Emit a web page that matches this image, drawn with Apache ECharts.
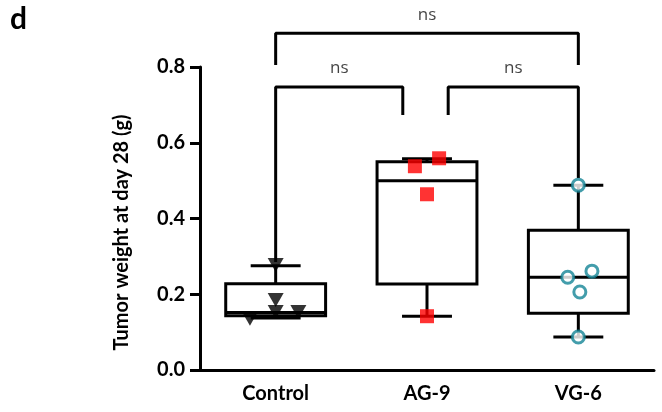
<!DOCTYPE html>
<html>
<head>
<meta charset="utf-8">
<script src="https://cdn.jsdelivr.net/npm/echarts@6/dist/echarts.min.js"></script>
<style>
  html, body { margin: 0; padding: 0; background: #fff; }
  #chart { width: 662px; height: 412px; }
</style>
</head>
<body>
<div id="chart"></div>
<script>
// categories and axis
var groups = ['Control', 'AG-9', 'VG-6'];
var yTicks = [0, 0.2, 0.4, 0.6, 0.8];

// box summaries: [min, Q1, median, Q3, max]
var controlBox = [0.137, 0.143, 0.152, 0.228, 0.275];
var ag9Box = [0.142, 0.227, 0.500, 0.550, 0.558];
var vg6Box = [0.087, 0.150, 0.245, 0.369, 0.488];

// individual animals
var controlPoints = [0.277, 0.185, 0.153, 0.153, 0.135];
var controlJitter = [0, 0, 0, 0.15, -0.17];
var ag9Points = [0.538, 0.559, 0.464, 0.142];
var ag9Jitter = [-0.08, 0.08, 0, 0];
var vg6Points = [0.488, 0.245, 0.261, 0.206, 0.087];
var vg6Jitter = [0, -0.07, 0.09, 0.01, 0];

// significance brackets: [xLeft, xRight, yTop, yLeftEnd, yRightEnd]
var bracketAG = [0, 0.84, 0.747, 0.285, 0.673];
var bracketVG = [1.14, 2, 0.747, 0.673, 0.507];
var bracketAll = [0, 2, 0.889, 0.805, 0.805];
var bracketText = ['ns', 'ns', 'ns'];

var FONT = 'Lato';
var chart = echarts.init(document.getElementById('chart'));

var boxes = [controlBox, ag9Box, vg6Box].map(function (b, i) {
  return [i].concat(b);
});

function renderBox(params, api) {
  var i = api.value(0);
  var band = api.size([1, 0])[0];
  var half = band * 0.33;
  var cap = band * 0.165;
  var pMin = api.coord([i, api.value(1)]);
  var pQ1 = api.coord([i, api.value(2)]);
  var pMed = api.coord([i, api.value(3)]);
  var pQ3 = api.coord([i, api.value(4)]);
  var pMax = api.coord([i, api.value(5)]);
  var x = pMin[0];
  var ls = { stroke: '#000', lineWidth: 3 };
  return {
    type: 'group',
    children: [
      { type: 'line', shape: { x1: x, y1: pQ3[1], x2: x, y2: pMax[1] }, style: ls },
      { type: 'line', shape: { x1: x - cap, y1: pMax[1], x2: x + cap, y2: pMax[1] }, style: ls },
      { type: 'line', shape: { x1: x, y1: pQ1[1], x2: x, y2: pMin[1] }, style: ls },
      { type: 'line', shape: { x1: x - cap, y1: pMin[1], x2: x + cap, y2: pMin[1] }, style: ls },
      { type: 'rect', shape: { x: x - half, y: pQ3[1], width: half * 2, height: pQ1[1] - pQ3[1] },
        style: { fill: '#fff', stroke: '#000', lineWidth: 3 } },
      { type: 'line', shape: { x1: x - half, y1: pMed[1], x2: x + half, y2: pMed[1] }, style: ls }
    ]
  };
}

function pts(idx, vals, jit) {
  return vals.map(function (v, k) { return [idx + jit[k], v]; });
}

function bracket(b) {
  return {
    type: 'line',
    xAxisIndex: 1,
    clip: false,
    silent: true,
    symbol: 'none',
    lineStyle: { color: '#000', width: 3 },
    data: [[b[0], b[3]], [b[0], b[2]], [b[1], b[2]], [b[1], b[4]]],
    z: 1
  };
}

var brackets = [bracketAG, bracketVG, bracketAll];

option = {
  animation: false,
  grid: { left: 200, right: 8, top: 67, bottom: 42 },
  xAxis: [
    {
      type: 'category',
      data: groups,
      axisLine: { onZero: false, lineStyle: { color: '#000', width: 3 } },
      axisTick: { alignWithLabel: true, length: 8, lineStyle: { color: '#000', width: 3 } },
      axisLabel: { color: '#000', fontFamily: FONT, fontWeight: 'bold', fontSize: 20, margin: 14 }
    },
    { type: 'value', min: -0.5, max: 2.5, show: false }
  ],
  yAxis: {
    type: 'value',
    min: yTicks[0],
    max: yTicks[yTicks.length - 1],
    interval: yTicks[1] - yTicks[0],
    name: 'Tumor weight at day 28 (g)',
    nameLocation: 'middle',
    nameGap: 68,
    nameTextStyle: {
      color: '#000', fontFamily: FONT, fontWeight: 'bold', fontSize: 20,
      padding: [0, 28, 0, 0]
    },
    splitLine: { show: false },
    axisLine: { show: true, onZero: false, lineStyle: { color: '#000', width: 3 } },
    axisTick: { show: true, length: 10, lineStyle: { color: '#000', width: 3 } },
    axisLabel: {
      color: '#000', fontFamily: FONT, fontWeight: 'bold', fontSize: 20, margin: 15,
      formatter: function (v) { return v.toFixed(1); }
    }
  },
  graphic: [
    { type: 'text', left: 10, top: 4, style: { text: 'd', fontFamily: FONT, fontWeight: 'bold', fontSize: 30, fill: '#000' } }
  ],
  series: [
    { type: 'custom', renderItem: renderBox, data: boxes, encode: { x: 0, y: [1, 2, 3, 4, 5] }, z: 2 },
    {
      type: 'scatter', xAxisIndex: 1, data: pts(0, controlPoints, controlJitter),
      symbol: 'triangle', symbolRotate: 180, symbolSize: [16, 14],
      itemStyle: { color: '#000' }, z: 5
    },
    {
      type: 'scatter', xAxisIndex: 1, data: pts(1, ag9Points, ag9Jitter),
      symbol: 'rect', symbolSize: 14,
      itemStyle: { color: '#ff0000' }, z: 5
    },
    {
      type: 'scatter', xAxisIndex: 1, data: pts(2, vg6Points, vg6Jitter),
      symbol: 'circle', symbolSize: 12,
      itemStyle: { color: '#fff', borderColor: '#148496', borderWidth: 3 }, z: 5
    }
  ].concat(brackets.map(bracket)).concat([
    {
      type: 'scatter', xAxisIndex: 1, clip: false, silent: true, symbolSize: 0,
      data: brackets.map(function (b, k) { return { value: [(b[0] + b[1]) / 2, b[2]], name: bracketText[k] }; }),
      label: {
        show: true, position: 'top', distance: 10, formatter: '{b}',
        color: '#111', fontFamily: 'Open Sans', fontSize: 17
      }
    }
  ])
};

chart.setOption(option);
</script>
</body>
</html>
